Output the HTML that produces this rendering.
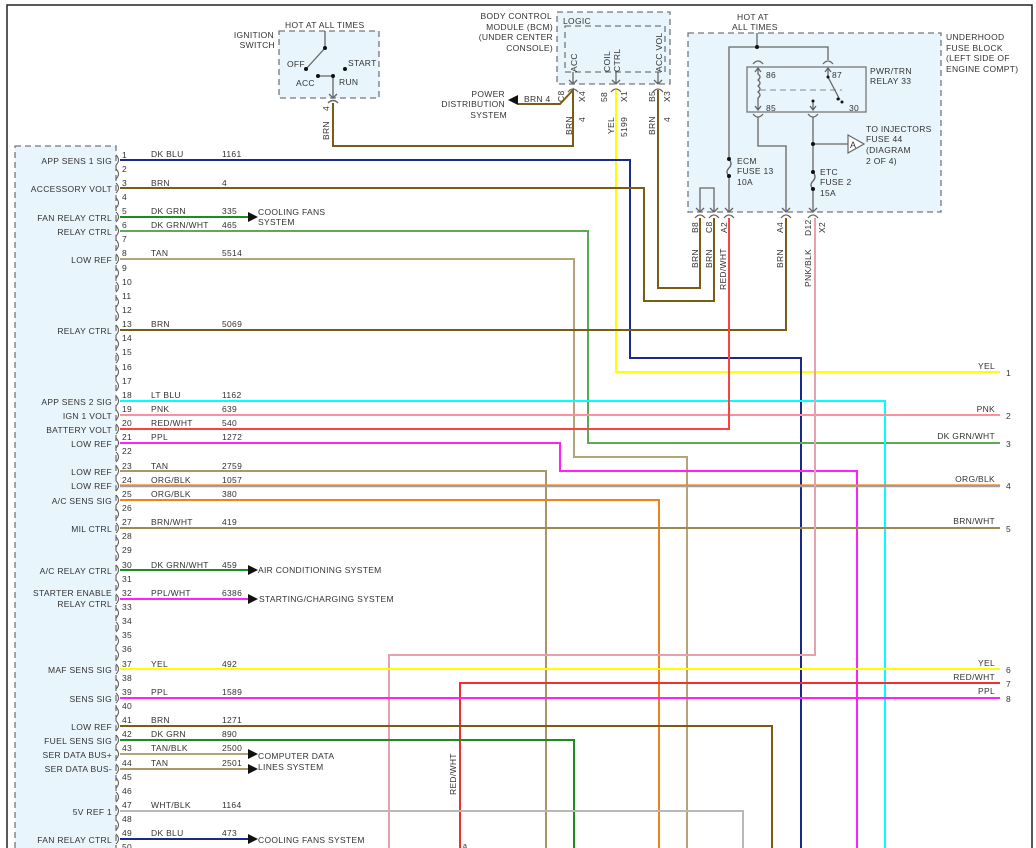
<!DOCTYPE html>
<html><head><meta charset="utf-8"><style>
html,body{margin:0;padding:0;background:#fff;}
svg{display:block;}
text{font-family:"Liberation Sans",sans-serif;font-size:8.5px;fill:#333;letter-spacing:0.3px;}
.r{text-anchor:end;}
.w{fill:none;stroke-width:2;}
.g{fill:none;stroke:#666;stroke-width:1.3;}
.d{fill:#e9f5fc;stroke:#777;stroke-width:1.3;stroke-dasharray:6,4;}
</style></head><body>
<svg width="1036" height="848" viewBox="0 0 1036 848" xmlns="http://www.w3.org/2000/svg">
<defs>
<path id="cn" d="M116,-5 Q121,0 116,5" fill="none" stroke="#555" stroke-width="1"/>
</defs>
<!-- frame -->
<path d="M7,848 V5 H1032 V848" fill="none" stroke="#222" stroke-width="1.5"/>

<!-- module box -->
<rect x="15" y="146" width="101" height="720" class="d"/>

<!-- ignition switch -->
<rect x="279" y="31" width="100" height="67" class="d"/>
<text x="285" y="28">HOT AT ALL TIMES</text>
<text x="274" y="38" class="r">IGNITION</text>
<text x="275" y="48" class="r">SWITCH</text>
<path d="M325,31 V48 L306,69" class="g"/>
<circle cx="325" cy="48" r="2" fill="#111"/><circle cx="306" cy="69" r="2" fill="#111"/>
<circle cx="345" cy="69" r="2" fill="#111"/>
<path d="M318,76 H333 V98" class="g"/>
<circle cx="318" cy="76" r="2" fill="#111"/><circle cx="333" cy="76" r="2" fill="#111"/>
<path d="M329,94 L333,98 L337,94 M328,103 Q333,98 338,103" class="g"/>
<text x="287" y="67">OFF</text><text x="348" y="66">START</text>
<text x="296" y="86">ACC</text><text x="339" y="85">RUN</text>
<text transform="translate(329,111) rotate(-90)">4</text>
<text transform="translate(329,140) rotate(-90)">BRN</text>

<!-- BCM -->
<text x="552" y="19" class="r">BODY CONTROL</text>
<text x="553" y="30" class="r">MODULE (BCM)</text>
<text x="553" y="40" class="r">(UNDER CENTER</text>
<text x="553" y="51" class="r">CONSOLE)</text>
<rect x="557" y="12" width="113" height="72" class="d"/>
<text x="563" y="24">LOGIC</text>
<rect x="565" y="26" width="100" height="46" class="d"/>
<text transform="translate(577,72) rotate(-90)">ACC</text>
<text transform="translate(610,72) rotate(-90)">COIL</text>
<text transform="translate(620,72) rotate(-90)">CTRL</text>
<text transform="translate(662,72) rotate(-90)">ACC VOL</text>
<path d="M573,72 V84 M569,80 L573,84 L577,80 M568,92 Q573,86 578,92" class="g"/>
<path d="M616,72 V84 M612,80 L616,84 L620,80 M611,92 Q616,86 621,92" class="g"/>
<path d="M658,72 V84 M654,80 L658,84 L662,80 M653,92 Q658,86 663,92" class="g"/>
<text transform="translate(564,102) rotate(-90)">C8</text>
<text transform="translate(585,102) rotate(-90)">X4</text>
<text transform="translate(607,102) rotate(-90)">58</text>
<text transform="translate(627,102) rotate(-90)">X1</text>
<text transform="translate(655,102) rotate(-90)">B5</text>
<text transform="translate(670,102) rotate(-90)">X3</text>
<text transform="translate(572,135) rotate(-90)">BRN</text>
<text transform="translate(585,122) rotate(-90)">4</text>
<text transform="translate(614,134) rotate(-90)">YEL</text>
<text transform="translate(627,137) rotate(-90)">5199</text>
<text transform="translate(655,135) rotate(-90)">BRN</text>
<text transform="translate(670,122) rotate(-90)">4</text>
<text x="524" y="102">BRN 4</text>
<path d="M508,100 L518,95 V105 Z" fill="#111"/>
<text x="505" y="97" class="r">POWER</text>
<text x="505" y="107" class="r">DISTRIBUTION</text>
<text x="507" y="118" class="r">SYSTEM</text>

<!-- Fuse block -->
<rect x="688" y="33" width="253" height="179" class="d"/>
<text x="737" y="20">HOT AT</text>
<text x="732" y="30">ALL TIMES</text>
<text x="946" y="40">UNDERHOOD</text>
<text x="946" y="51">FUSE BLOCK</text>
<text x="946" y="61">(LEFT SIDE OF</text>
<text x="946" y="72">ENGINE COMPT)</text>
<path d="M757,33 V47 M729,212 V47 H828 V60" class="g"/>
<circle cx="757" cy="47" r="2" fill="#111"/>
<path d="M753,64 Q758,58 763,64 M823,64 Q828,58 833,64" class="g"/>
<rect x="747" y="67" width="119" height="45" fill="#e9f5fc" stroke="#777" stroke-width="1.3"/>
<path d="M758,68 V74 Q762,77 758,80 Q762,83 758,86 Q762,89 758,92 Q762,95 758,98 V110 M755,72 L758,68 L761,72 M755,106 L758,110 L761,106" class="g"/>
<path d="M760,90 H842" stroke="#888" stroke-width="1" stroke-dasharray="6,4" fill="none"/>
<path d="M828,68 V77 L840,100 M825,72 L828,68 L831,72" class="g"/>
<circle cx="828" cy="77" r="1.5" fill="#111"/><circle cx="838" cy="99" r="1.5" fill="#111"/><circle cx="842" cy="102" r="1.5" fill="#111"/>
<path d="M813,101 V110 M810,106 L813,110 L816,106" class="g"/>
<circle cx="813" cy="101" r="1.5" fill="#111"/>
<text x="766" y="78">86</text><text x="832" y="78">87</text>
<text x="766" y="111">85</text><text x="849" y="111">30</text>
<text x="870" y="74">PWR/TRN</text><text x="870" y="84">RELAY 33</text>
<path d="M753,114 Q758,120 763,114 M808,114 Q813,120 818,114" class="g"/>
<path d="M758,117 V146 H786 V212 M813,117 V212 M813,144 H848" class="g"/>
<circle cx="813" cy="144" r="2" fill="#111"/>
<path d="M848,135 L864,144 L848,153 Z" fill="#fff" stroke="#666" stroke-width="1.2"/>
<text x="850" y="148" style="font-size:9px">A</text>
<text x="866" y="132">TO INJECTORS</text>
<text x="866" y="142">FUSE 44</text>
<text x="866" y="153">(DIAGRAM</text>
<text x="866" y="164">2 OF 4)</text>
<rect x="727" y="158" width="4" height="19" fill="#e9f5fc"/>
<path d="M729,159 Q733,164 729,168 Q725,172 729,176" class="g"/>
<circle cx="729" cy="159" r="2" fill="#111"/><circle cx="729" cy="176" r="2" fill="#111"/>
<text x="737" y="164">ECM</text><text x="737" y="174">FUSE 13</text><text x="737" y="185">10A</text>
<rect x="811" y="172" width="4" height="19" fill="#e9f5fc"/>
<path d="M813,172 Q817,177 813,181 Q809,185 813,189" class="g"/>
<circle cx="813" cy="172" r="2" fill="#111"/><circle cx="813" cy="189" r="2" fill="#111"/>
<text x="820" y="175">ETC</text><text x="820" y="185">FUSE 2</text><text x="820" y="196">15A</text>
<path d="M700,212 V188 H714 V212" class="g"/>
<path d="M696,208 L700,212 L704,208 M710,208 L714,212 L718,208 M725,208 L729,212 L733,208 M782,208 L786,212 L790,208 M809,208 L813,212 L817,208" class="g"/>
<path d="M695,218 Q700,212 705,218 M709,218 Q714,212 719,218 M724,218 Q729,212 734,218 M781,218 Q786,212 791,218 M808,218 Q813,212 818,218" class="g"/>
<text transform="translate(698,233) rotate(-90)">B8</text>
<text transform="translate(712,233) rotate(-90)">C8</text>
<text transform="translate(727,233) rotate(-90)">A2</text>
<text transform="translate(783,233) rotate(-90)">A4</text>
<text transform="translate(811,236) rotate(-90)">D12</text>
<text transform="translate(825,233) rotate(-90)">X2</text>
<text transform="translate(698,268) rotate(-90)">BRN</text>
<text transform="translate(712,268) rotate(-90)">BRN</text>
<text transform="translate(726,290) rotate(-90)">RED/WHT</text>
<text transform="translate(783,268) rotate(-90)">BRN</text>
<text transform="translate(811,287) rotate(-90)">PNK/BLK</text>

<!-- wires -->
<path d="M333,103 V146 H573 V90 L560,104 H518" class="w" stroke="#7a5c14"/>
<path d="M616,90 V372 H1000" class="w" stroke="#ffff00"/>
<path d="M658,90 V288 H700 V218" class="w" stroke="#7a5c14"/>
<path d="M120,160 H630 V358 H801 V848" class="w" stroke="#1a2a8c"/>
<path d="M120,188 H644 V301 H714 V218" class="w" stroke="#7a5c14"/>
<path d="M120,217 H248" class="w" stroke="#1e8c1e"/>
<path d="M120,231 H588 V443 H1000" class="w" stroke="#5aaa5a"/>
<path d="M120,259 H574 V457 H687 V848" class="w" stroke="#b4a478"/>
<path d="M120,330 H786 V218" class="w" stroke="#7a5c14"/>
<path d="M120,401 H885 V848" class="w" stroke="#00ffff"/>
<path d="M120,415 H1000" class="w" stroke="#ff8fa0"/>
<path d="M120,429 H729 V218" class="w" stroke="#ff4040"/>
<path d="M120,443 H560 V471 H857 V848" class="w" stroke="#ff20ff"/>
<path d="M120,471 H546 V848" class="w" stroke="#a89868"/>
<path d="M120,486 H1000" stroke="#a0a0a0" stroke-width="2.4" fill="none"/>
<path d="M120,485 H1000" stroke="#f08020" stroke-width="1.2" fill="none"/>
<path d="M120,500 H659 V848" class="w" stroke="#f08020"/>
<path d="M120,528 H1000" class="w" stroke="#9c8a50"/>
<path d="M120,570 H248" class="w" stroke="#1e8c1e"/>
<path d="M120,599 H248" class="w" stroke="#ff20ff"/>
<path d="M815,218 V655 H389 V848" class="w" stroke="#e8a0b0"/>
<path d="M120,669 H1000" class="w" stroke="#ffff00"/>
<path d="M460,848 V683 H1000" class="w" stroke="#ee3030"/>
<path d="M120,698 H1000" class="w" stroke="#ff20ff"/>
<path d="M120,726 H772 V848" class="w" stroke="#7a5c14"/>
<path d="M120,740 H574 V848" class="w" stroke="#1e8c1e"/>
<path d="M120,754 H248" class="w" stroke="#b4a478"/>
<path d="M120,769 H248" class="w" stroke="#a89868"/>
<path d="M120,811 H743 V848" class="w" stroke="#b8b8b8"/>
<path d="M120,839 H248" class="w" stroke="#1a2a8c"/>
<text transform="translate(456,795) rotate(-90)">RED/WHT</text>
<text x="463" y="848" style="font-size:7px">a</text>

<!-- arrowheads -->
<g fill="#111">
<path d="M248,212 L258,217 L248,222 Z"/><path d="M248,565 L258,570 L248,575 Z"/>
<path d="M248,594 L258,599 L248,604 Z"/><path d="M248,749 L258,754 L248,759 Z"/>
<path d="M248,764 L258,769 L248,774 Z"/><path d="M248,834 L258,839 L248,844 Z"/>
</g>
<text x="258" y="215">COOLING FANS</text><text x="258" y="225">SYSTEM</text>
<text x="258" y="573">AIR CONDITIONING SYSTEM</text>
<text x="259" y="602">STARTING/CHARGING SYSTEM</text>
<text x="258" y="759">COMPUTER DATA</text><text x="258" y="770">LINES SYSTEM</text>
<text x="258" y="843">COOLING FANS SYSTEM</text>

<!-- right labels -->
<g>
<text x="995" y="369" class="r">YEL</text><text x="1006" y="376">1</text>
<text x="995" y="412" class="r">PNK</text><text x="1006" y="419">2</text>
<text x="995" y="439" class="r">DK GRN/WHT</text><text x="1006" y="447">3</text>
<text x="995" y="482" class="r">ORG/BLK</text><text x="1006" y="489">4</text>
<text x="995" y="524" class="r">BRN/WHT</text><text x="1006" y="532">5</text>
<text x="995" y="666" class="r">YEL</text><text x="1006" y="673">6</text>
<text x="995" y="680" class="r">RED/WHT</text><text x="1006" y="687">7</text>
<text x="995" y="694" class="r">PPL</text><text x="1006" y="702">8</text>
</g>

<!-- pin labels -->
<g>
<text x="112" y="164" class="r">APP SENS 1 SIG</text>
<text x="112" y="192" class="r">ACCESSORY VOLT</text>
<text x="112" y="221" class="r">FAN RELAY CTRL</text>
<text x="112" y="235" class="r">RELAY CTRL</text>
<text x="112" y="263" class="r">LOW REF</text>
<text x="112" y="334" class="r">RELAY CTRL</text>
<text x="112" y="405" class="r">APP SENS 2 SIG</text>
<text x="112" y="419" class="r">IGN 1 VOLT</text>
<text x="112" y="433" class="r">BATTERY VOLT</text>
<text x="112" y="447" class="r">LOW REF</text>
<text x="112" y="475" class="r">LOW REF</text>
<text x="112" y="489" class="r">LOW REF</text>
<text x="112" y="504" class="r">A/C SENS SIG</text>
<text x="112" y="532" class="r">MIL CTRL</text>
<text x="112" y="574" class="r">A/C RELAY CTRL</text>
<text x="112" y="596" class="r">STARTER ENABLE</text>
<text x="112" y="607" class="r">RELAY CTRL</text>
<text x="112" y="673" class="r">MAF SENS SIG</text>
<text x="112" y="702" class="r">SENS SIG</text>
<text x="112" y="730" class="r">LOW REF</text>
<text x="112" y="744" class="r">FUEL SENS SIG</text>
<text x="112" y="758" class="r">SER DATA BUS+</text>
<text x="112" y="772" class="r">SER DATA BUS-</text>
<text x="112" y="815" class="r">5V REF 1</text>
<text x="112" y="843" class="r">FAN RELAY CTRL</text>
</g>

<!-- wire names / circuit numbers -->
<g>
<text x="151" y="157">DK BLU</text><text x="222" y="157">1161</text>
<text x="151" y="186">BRN</text><text x="222" y="186">4</text>
<text x="151" y="214">DK GRN</text><text x="222" y="214">335</text>
<text x="151" y="228">DK GRN/WHT</text><text x="222" y="228">465</text>
<text x="151" y="256">TAN</text><text x="222" y="256">5514</text>
<text x="151" y="327">BRN</text><text x="222" y="327">5069</text>
<text x="151" y="398">LT BLU</text><text x="222" y="398">1162</text>
<text x="151" y="412">PNK</text><text x="222" y="412">639</text>
<text x="151" y="426">RED/WHT</text><text x="222" y="426">540</text>
<text x="151" y="440">PPL</text><text x="222" y="440">1272</text>
<text x="151" y="469">TAN</text><text x="222" y="469">2759</text>
<text x="151" y="483">ORG/BLK</text><text x="222" y="483">1057</text>
<text x="151" y="497">ORG/BLK</text><text x="222" y="497">380</text>
<text x="151" y="525">BRN/WHT</text><text x="222" y="525">419</text>
<text x="151" y="568">DK GRN/WHT</text><text x="222" y="568">459</text>
<text x="151" y="596">PPL/WHT</text><text x="222" y="596">6386</text>
<text x="151" y="667">YEL</text><text x="222" y="667">492</text>
<text x="151" y="695">PPL</text><text x="222" y="695">1589</text>
<text x="151" y="723">BRN</text><text x="222" y="723">1271</text>
<text x="151" y="737">DK GRN</text><text x="222" y="737">890</text>
<text x="151" y="751">TAN/BLK</text><text x="222" y="751">2500</text>
<text x="151" y="766">TAN</text><text x="222" y="766">2501</text>
<text x="151" y="808">WHT/BLK</text><text x="222" y="808">1164</text>
<text x="151" y="836">DK BLU</text><text x="222" y="836">473</text>
</g>

<!-- pin numbers & connector arcs -->
<g>
<use href="#cn" y="160"/><use href="#cn" y="174"/><use href="#cn" y="188"/><use href="#cn" y="203"/><use href="#cn" y="217"/>
<use href="#cn" y="231"/><use href="#cn" y="245"/><use href="#cn" y="259"/><use href="#cn" y="273"/><use href="#cn" y="287"/>
<use href="#cn" y="302"/><use href="#cn" y="316"/><use href="#cn" y="330"/><use href="#cn" y="344"/><use href="#cn" y="358"/>
<use href="#cn" y="372"/><use href="#cn" y="386"/><use href="#cn" y="401"/><use href="#cn" y="415"/><use href="#cn" y="429"/>
<use href="#cn" y="443"/><use href="#cn" y="457"/><use href="#cn" y="471"/><use href="#cn" y="486"/><use href="#cn" y="500"/>
<use href="#cn" y="514"/><use href="#cn" y="528"/><use href="#cn" y="542"/><use href="#cn" y="556"/><use href="#cn" y="570"/>
<use href="#cn" y="585"/><use href="#cn" y="599"/><use href="#cn" y="613"/><use href="#cn" y="627"/><use href="#cn" y="641"/>
<use href="#cn" y="655"/><use href="#cn" y="669"/><use href="#cn" y="684"/><use href="#cn" y="698"/><use href="#cn" y="712"/>
<use href="#cn" y="726"/><use href="#cn" y="740"/><use href="#cn" y="754"/><use href="#cn" y="769"/><use href="#cn" y="783"/>
<use href="#cn" y="797"/><use href="#cn" y="811"/><use href="#cn" y="825"/><use href="#cn" y="839"/>
</g>
<g style="font-size:8px">
<text x="122" y="158">1</text><text x="122" y="172">2</text><text x="122" y="186">3</text><text x="122" y="200">4</text><text x="122" y="214">5</text>
<text x="122" y="228">6</text><text x="122" y="242">7</text><text x="122" y="256">8</text><text x="122" y="271">9</text><text x="122" y="285">10</text>
<text x="122" y="299">11</text><text x="122" y="313">12</text><text x="122" y="327">13</text><text x="122" y="341">14</text><text x="122" y="355">15</text>
<text x="122" y="370">16</text><text x="122" y="384">17</text><text x="122" y="398">18</text><text x="122" y="412">19</text><text x="122" y="426">20</text>
<text x="122" y="440">21</text><text x="122" y="454">22</text><text x="122" y="469">23</text><text x="122" y="483">24</text><text x="122" y="497">25</text>
<text x="122" y="511">26</text><text x="122" y="525">27</text><text x="122" y="539">28</text><text x="122" y="553">29</text><text x="122" y="568">30</text>
<text x="122" y="582">31</text><text x="122" y="596">32</text><text x="122" y="610">33</text><text x="122" y="624">34</text><text x="122" y="638">35</text>
<text x="122" y="652">36</text><text x="122" y="667">37</text><text x="122" y="681">38</text><text x="122" y="695">39</text><text x="122" y="709">40</text>
<text x="122" y="723">41</text><text x="122" y="737">42</text><text x="122" y="751">43</text><text x="122" y="766">44</text><text x="122" y="780">45</text>
<text x="122" y="794">46</text><text x="122" y="808">47</text><text x="122" y="822">48</text><text x="122" y="836">49</text><text x="122" y="850">50</text>
</g>
</svg>
</body></html>
